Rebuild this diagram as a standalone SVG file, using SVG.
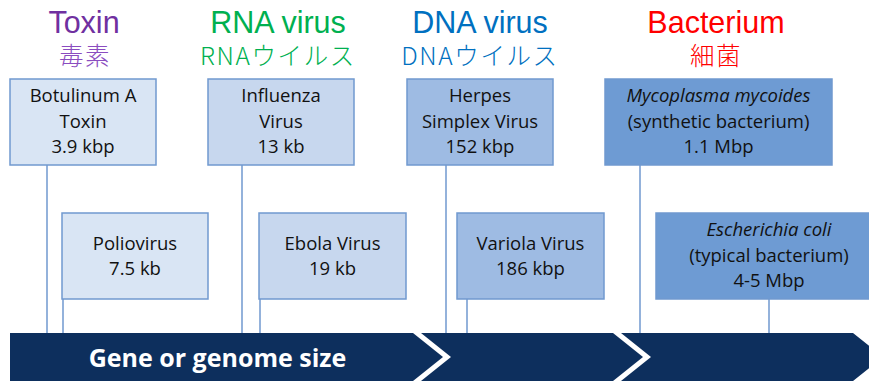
<svg xmlns="http://www.w3.org/2000/svg" width="869" height="381" viewBox="0 0 869 381">
<style>
.title{font-family:"Liberation Sans",Arial,sans-serif;font-size:30.5px;text-anchor:middle}
.jp{font-family:"Noto Sans CJK JP","Noto Sans",sans-serif;font-size:24.5px;font-weight:300;text-anchor:middle;letter-spacing:1.6px}
.box{stroke:#7099cf;stroke-width:1.5}
.t{font-family:"Open Sans","Noto Sans",sans-serif;font-size:18.5px;fill:#111;text-anchor:middle}
.c1{fill:#d9e5f4}.c2{fill:#c7d7ee}.c3{fill:#9ebbe3}.c4{fill:#6e9bd3}
.ln{stroke:#7099cf;stroke-width:1.5;fill:none}
.band{fill:#0d2f5d}
</style>
<g id="headers">
<text class="title" x="84" y="33" fill="#7030a0">Toxin</text>
<text class="jp" x="85" y="65" fill="#8a4cc0">毒素</text>
<text class="title" x="278" y="33" fill="#00b050">RNA virus</text>
<text class="jp" x="278" y="65" fill="#00b050">RNAウイルス</text>
<text class="title" x="480" y="33" fill="#0070c0">DNA virus</text>
<text class="jp" x="480" y="65" fill="#0070c0">DNAウイルス</text>
<text class="title" x="716" y="33" fill="#ff0000">Bacterium</text>
<text class="jp" x="716" y="65" fill="#ff0000">細菌</text>
</g>
<g id="connectors">
<line class="ln" x1="47" y1="165" x2="47" y2="334"/>
<line class="ln" x1="63" y1="299" x2="63" y2="334"/>
<line class="ln" x1="242" y1="165" x2="242" y2="334"/>
<line class="ln" x1="260" y1="299" x2="260" y2="334"/>
<line class="ln" x1="446" y1="165" x2="446" y2="334"/>
<line class="ln" x1="467" y1="299" x2="467" y2="334"/>
<line class="ln" x1="640" y1="165" x2="640" y2="334"/>
<line class="ln" x1="769" y1="299" x2="769" y2="334"/>
</g>
<g id="banner">
<polygon class="band" points="10,333 413,333 443,357 413,381 10,381"/>
<polygon class="band" points="421,333 613,333 643,357 613,381 421,381 451,357"/>
<polygon class="band" points="621,333 853,333 883,357 853,381 621,381 651,357"/>
<text x="217.5" y="367" font-family="'Open Sans','Noto Sans',sans-serif" font-size="25" font-weight="bold" fill="#fff" text-anchor="middle">Gene or genome size</text>
</g>
<g id="botulinum">
<rect class="box c1" x="10" y="79" width="146" height="86"/>
<text class="t" x="83" y="102">Botulinum A</text>
<text class="t" x="83" y="128">Toxin</text>
<text class="t" x="83" y="153">3.9 kbp</text>
</g>
<g id="poliovirus">
<rect class="box c1" x="62" y="213" width="146" height="86"/>
<text class="t" x="135" y="250">Poliovirus</text>
<text class="t" x="135" y="275">7.5 kb</text>
</g>
<g id="influenza">
<rect class="box c2" x="208" y="79" width="146" height="86"/>
<text class="t" x="281" y="102">Influenza</text>
<text class="t" x="281" y="128">Virus</text>
<text class="t" x="281" y="153">13 kb</text>
</g>
<g id="ebola">
<rect class="box c2" x="259" y="213" width="147" height="86"/>
<text class="t" x="332.5" y="250">Ebola Virus</text>
<text class="t" x="332.5" y="275">19 kb</text>
</g>
<g id="herpes">
<rect class="box c3" x="407" y="79" width="146" height="86"/>
<text class="t" x="480" y="102">Herpes</text>
<text class="t" x="480" y="128">Simplex Virus</text>
<text class="t" x="480" y="153">152 kbp</text>
</g>
<g id="variola">
<rect class="box c3" x="457" y="213" width="147" height="86"/>
<text class="t" x="530.5" y="250">Variola Virus</text>
<text class="t" x="530.5" y="275">186 kbp</text>
</g>
<g id="mycoplasma">
<rect class="box c4" x="605" y="79" width="227" height="86"/>
<text class="t" x="718.5" y="102" font-style="italic">Mycoplasma mycoides</text>
<text class="t" x="718.5" y="128">(synthetic bacterium)</text>
<text class="t" x="718.5" y="153">1.1 Mbp</text>
</g>
<g id="ecoli">
<rect class="box c4" x="656" y="213" width="227" height="86"/>
<text class="t" x="769" y="236" font-style="italic">Escherichia coli</text>
<text class="t" x="769" y="262">(typical bacterium)</text>
<text class="t" x="769" y="287">4-5 Mbp</text>
</g>
</svg>
